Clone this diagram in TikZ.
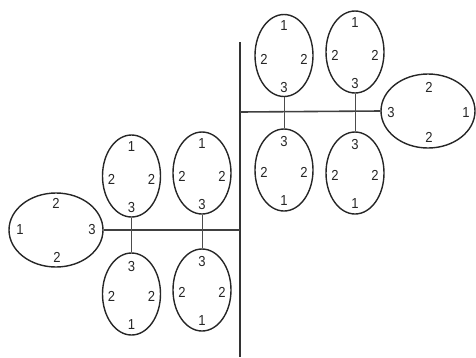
\documentclass[tikz,border=0pt]{standalone}
\usepackage{fontspec}
\setmainfont{Liberation Sans}
\usetikzlibrary{shapes.geometric,calc}
\newcommand\toplbl[1]{%
  \node[num] (#1-a) at ($(#1)+(0,-29.5)$) {1};
  \node[num] (#1-b) at ($(#1)+(-20,3.5)$) {2};
  \node[num] (#1-c) at ($(#1)+(20,3.5)$) {2};
  \node[num] (#1-d) at ($(#1)+(0,32)$) {3};}
\newcommand\botlbl[1]{%
  \node[num] (#1-a) at ($(#1)+(0,-28)$) {3};
  \node[num] (#1-b) at ($(#1)+(-20,2)$) {2};
  \node[num] (#1-c) at ($(#1)+(20,2)$) {2};
  \node[num] (#1-d) at ($(#1)+(0,31)$) {1};}
\begin{document}
\begin{tikzpicture}[x=1pt,y=-1pt,
  ell/.style={draw=black!85, line width=1.4pt, ellipse, inner sep=0pt},
  vert/.style={ell, minimum width=58pt, minimum height=82pt},
  horiz/.style={ell, minimum width=94pt, minimum height=74pt},
  num/.style={font=\fontsize{14.5}{14.5}\selectfont, inner sep=0pt, text=black!85, xscale=0.9},
  conn/.style={draw=black!70, line width=1pt},
  hconn/.style={draw=black!75, line width=1.6pt},
  mainline/.style={draw=black!80, line width=1.6pt}]
\useasboundingbox (0,0) rectangle (476,357);
% upper right group
\node[vert] (A1t) at (284,55.5) {};
\node[vert] (A1b) at (284,170) {};
\node[vert] (A2t) at (355,52) {};
\node[vert] (A2b) at (355,173) {};
\node[horiz] (R) at (428,111) {};
% lower left group
\node[vert] (B1t) at (131.5,176) {};
\node[vert] (B1b) at (131.5,294) {};
\node[vert] (B2t) at (202,173) {};
\node[vert] (B2b) at (202,290) {};
\node[horiz] (L) at (56,230) {};
% labels
\toplbl{A1t} \toplbl{A2t} \toplbl{B1t} \toplbl{B2t}
\botlbl{A1b} \botlbl{A2b} \botlbl{B1b} \botlbl{B2b}
\node[num] (R-a) at ($(R)+(1,-24)$) {2};
\node[num] (R-b) at ($(R)+(-37,2)$) {3};
\node[num] (R-c) at ($(R)+(38,2)$) {1};
\node[num] (R-d) at ($(R)+(1,26)$) {2};
\node[num] (L-a) at ($(L)+(0,-27)$) {2};
\node[num] (L-b) at ($(L)+(-36,0)$) {1};
\node[num] (L-c) at ($(L)+(36,0)$) {3};
\node[num] (L-d) at ($(L)+(1,27)$) {2};
% connectors
\coordinate (Vtop) at (240,42);
\coordinate (Vbot) at (240,357);
\coordinate (Vr) at (240,112);
\coordinate (Vl) at (240,230);
\draw[mainline] (Vtop) -- (Vbot);
\draw[hconn] (Vr) -- (R.west);
\draw[hconn] (L.east) -- (Vl);
\draw[conn] (A1t.south) -- (A1b.north);
\draw[conn] (A2t.south) -- (A2b.north);
\draw[conn] (B1t.south) -- (B1b.north);
\draw[conn] (B2t.south) -- (B2b.north);
\end{tikzpicture}
\end{document}
